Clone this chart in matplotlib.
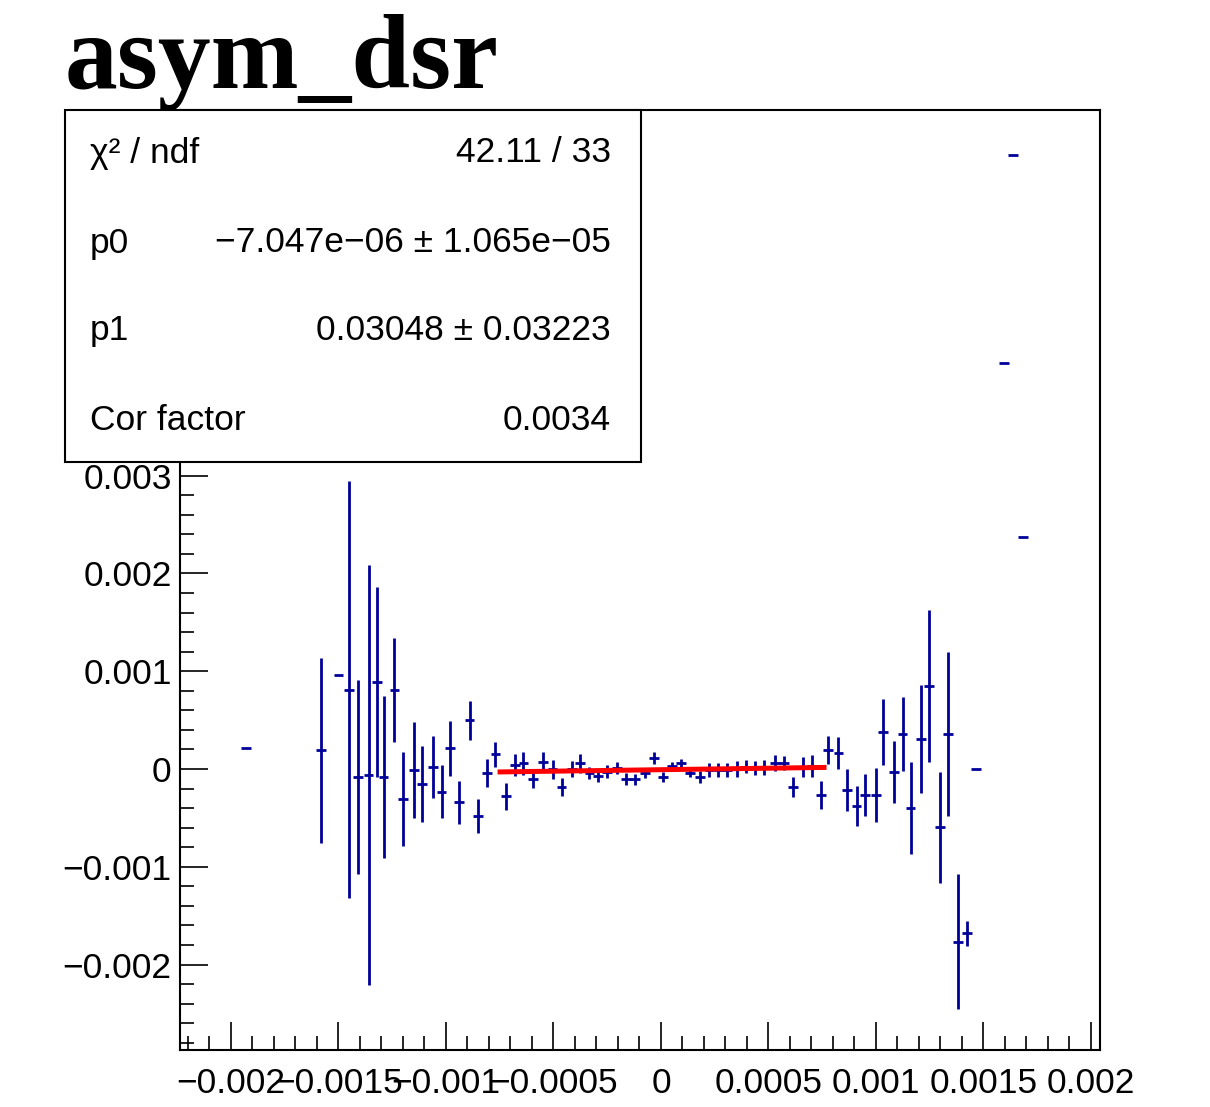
import matplotlib
matplotlib.use("Agg")
import matplotlib.pyplot as plt
from matplotlib.ticker import MultipleLocator, FuncFormatter
from matplotlib.patches import Rectangle

# ---- data ----
x_vals = [-0.00193, -0.00158, -0.00150, -0.00145, -0.00141, -0.00136, -0.00132, -0.00129,
          -0.00124, -0.00120, -0.00115, -0.00111, -0.00106, -0.00102, -0.00098, -0.00094,
          -0.00089, -0.00085, -0.00081, -0.00077, -0.00072, -0.00068,
          -0.000640, -0.000594, -0.000550, -0.000504, -0.000462, -0.000415, -0.000377,
          -0.000333, -0.000292, -0.000250, -0.000206, -0.000163, -0.000121, -0.000074,
          -0.000033, 0.000011,
          0.000050, 0.000092, 0.000135, 0.000181, 0.000225, 0.000267, 0.000306, 0.000352,
          0.000395, 0.000437, 0.000479, 0.000530, 0.000572, 0.000615, 0.000659, 0.000701,
          0.000744, 0.000778, 0.000825,
          0.000864, 0.000910, 0.000949, 0.001000, 0.001034, 0.001084, 0.001124, 0.001161,
          0.001208, 0.001248, 0.001298, 0.001336, 0.001383, 0.001422, 0.001465,
          0.001595, 0.001637, 0.001684]
y_vals = [0.00021, 0.00019, 0.00096, 0.00081, -0.00008, -0.00006, 0.00089, -0.00008,
          0.00081, -0.00031, -0.00001, -0.00015, 0.00002, -0.00023, 0.00021, -0.00034,
          0.00050, -0.00048, -0.00004, 0.00015, -0.00028, 0.00004,
          0.000058, -0.000106, 0.000075, -0.000003, -0.000187, 0.0, 0.000058,
          -0.000044, -0.000072, -0.000027, 0.000007, -0.000106, -0.000106, -0.000044,
          0.000109, -0.000079,
          0.000031, 0.000058, -0.000044, -0.000079, -0.00001, -0.00001, -0.00001, 0.0,
          0.000024, 0.000013, 0.000017, 0.000058, 0.000058, -0.000187, 0.000024, 0.000031,
          -0.000266, 0.000194, 0.000167,
          -0.000215, -0.000378, -0.000266, -0.000266, 0.000381, -0.000027, 0.000358, -0.000402,
          0.000304, 0.000849, -0.000596, 0.000358, -0.001766, -0.00168, 0.0,
          0.00415, 0.00628, 0.00237]
y_errs = [0.0, 0.00095, 0.0, 0.00213, 0.00099, 0.00215, 0.00097, 0.00083,
          0.00053, 0.00048, 0.00049, 0.00039, 0.00032, 0.00027, 0.00028, 0.00022,
          0.00020, 0.00017, 0.00014, 0.00013, 0.00014, 0.00011,
          0.00012, 0.000092, 0.000097, 0.000097, 0.000092, 0.000082, 0.000099,
          0.000061, 0.000064, 0.000068, 0.000061, 0.000061, 0.000056, 0.000051,
          0.000061, 0.000051,
          0.000041, 0.000046, 0.000041, 0.000061, 0.000072, 0.000072, 0.000072, 0.000077,
          0.000068, 0.000072, 0.000077, 0.000082, 0.000072, 0.000102, 0.000102, 0.00011,
          0.000143, 0.000143, 0.000164,
          0.000215, 0.000204, 0.000215, 0.000276, 0.000337, 0.000317, 0.000378, 0.00047,
          0.00055, 0.00078, 0.00057, 0.00084, 0.00069, 0.00013, 0.0,
          0.0, 0.0, 0.0]
x_half_width = 0.0000225

fit_p0 = -7.047e-06
fit_p1 = 0.03048
fit_range = [-0.00076, 0.00077]

title = "asym_dsr"
stats_labels = ["\u03c7\u00b2 / ndf", "p0", "p1", "Cor factor"]
stats_values = ["42.11 / 33", "\u22127.047e\u221206 \u00b1 1.065e\u221205",
                "0.03048 \u00b1 0.03223", "0.0034"]

# ---- figure ----
W, H = 1210, 1107
fig = plt.figure(figsize=(W / 100, H / 100), dpi=100)
fig.patch.set_facecolor("white")
sans = ["Liberation Sans", "DejaVu Sans"]

ax = fig.add_axes([180 / W, 1 - 1050 / H, 920 / W, 940 / H])
ax.set_xlim(-0.002237, 0.002042)
ax.set_ylim(-0.002873, 0.006738)

ax.errorbar(x_vals, y_vals, yerr=y_errs, xerr=[x_half_width] * len(x_vals),
            fmt="none", ecolor="#000099", elinewidth=2.0, capsize=0, zorder=3)

fx = fit_range
fy = [fit_p0 + fit_p1 * v for v in fx]
ax.plot(fx, fy, color="#ff0000", lw=3.6, solid_capstyle="butt", zorder=4)

for s in ax.spines.values():
    s.set_linewidth(1.5)

ax.xaxis.set_major_locator(MultipleLocator(0.0005))
ax.xaxis.set_minor_locator(MultipleLocator(0.0001))
ax.yaxis.set_major_locator(MultipleLocator(0.001))
ax.yaxis.set_minor_locator(MultipleLocator(0.0002))


def fmt(v, pos):
    s = "%g" % round(v, 6)
    if s in ("-0", "0"):
        return "0"
    return s.replace("-", "\u2212")


ax.xaxis.set_major_formatter(FuncFormatter(fmt))
ax.yaxis.set_major_formatter(FuncFormatter(fmt))
ax.tick_params(which="both", direction="in", top=False, right=False, width=1.2)
ax.tick_params(which="major", length=20)
ax.tick_params(which="minor", length=10)
ax.tick_params(axis="x", which="major", pad=12)
ax.tick_params(axis="y", which="major", pad=6)
for lab in ax.get_xticklabels() + ax.get_yticklabels():
    lab.set_fontfamily(sans)
    lab.set_fontsize(25.5)

# title
fig.text(65 / W, 1 - 88 / H, title, fontsize=76, fontweight="bold",
         family=["Liberation Serif", "DejaVu Serif"], ha="left", va="baseline")

# stats box
box = Rectangle((65 / W, 1 - 462 / H), (641 - 65) / W, (462 - 110) / H,
                transform=fig.transFigure, facecolor="white", edgecolor="black",
                linewidth=1.5, zorder=10)
fig.add_artist(box)
rows_y = [153, 243, 330, 420]
for lab, val, yy in zip(stats_labels, stats_values, rows_y):
    fig.text(90 / W, 1 - yy / H, lab, fontsize=25.5, family=sans,
             ha="left", va="center", zorder=11)
    fig.text(611 / W, 1 - yy / H, val, fontsize=25.5, family=sans,
             ha="right", va="center", zorder=11)

fig.savefig("out.png", dpi=100)
